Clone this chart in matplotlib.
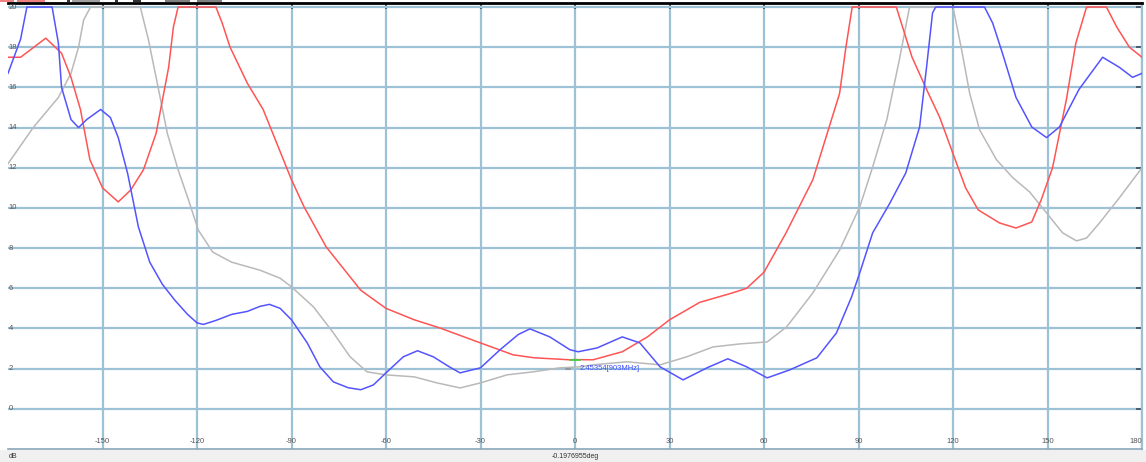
import matplotlib
matplotlib.use("Agg")
import matplotlib.pyplot as plt
from matplotlib.patches import Rectangle

# ---- data (angle in deg, level in dB) ----
red_deg = [-180, -176, -168, -163, -160, -157, -154, -150, -145, -141, -137, -133, -129, -127.5, -126,
           -114, -112, -109.5, -104, -99, -90, -86, -79, -68, -60, -51, -43, -30, -19.7, -13, -1.6, 0,
           5.7, 15, 23, 30, 39.6, 50, 54.5, 60, 67, 75.5, 84, 86, 88, 102, 104, 107, 111.6, 115.8, 120,
           124, 128, 134.8, 140, 145, 148, 151.6, 156, 159, 162.4, 168.7, 172, 176, 180]
red_db = [17.5, 17.5, 18.45, 17.7, 16.5, 14.9, 12.4, 11.0, 10.3, 10.9, 11.9, 13.7, 17.0, 19.0, 20,
          20, 19.2, 18.0, 16.2, 14.9, 11.4, 10.05, 8.06, 5.9, 5.0, 4.43, 4.03, 3.28, 2.69, 2.54, 2.44, 2.45,
          2.44, 2.84, 3.58, 4.43, 5.3, 5.77, 6.0, 6.8, 8.76, 11.4, 15.7, 18.0, 20, 20, 19.0, 17.5, 15.9, 14.5, 12.7,
          11.0, 9.9, 9.25, 9.0, 9.3, 10.4, 12.0, 15.4, 18.2, 20, 20, 19.0, 18.0, 17.5]

blue_deg = [-180, -176, -174, -166, -164, -163, -160, -157.6, -155, -150.6, -147.5, -145, -142, -138.6,
            -135, -131, -127, -123, -120, -118, -114, -109, -104, -100, -97, -93.6, -90, -85, -81, -76.7,
            -72, -68, -64, -60, -54.5, -50, -45, -40, -36.5, -30, -23.8, -18, -14.3, -8, -1.6, 1, 7, 15,
            20.6, 27, 34.3, 41.9, 48.5, 54.5, 61, 68.2, 76.8, 83, 87.8, 90.4, 94.5, 100, 105, 109.4, 111.6,
            113.5, 114.5, 130, 132.6, 135.7, 140, 145, 149.7, 153.8, 160, 167.5, 172.8, 177, 180]
blue_db = [16.7, 18.4, 20, 20, 18.2, 16.0, 14.4, 14.0, 14.4, 14.9, 14.5, 13.5, 11.7, 9.05,
           7.3, 6.2, 5.4, 4.7, 4.28, 4.2, 4.4, 4.7, 4.85, 5.1, 5.2, 5.0, 4.43, 3.28, 2.09, 1.34,
           1.05, 0.95, 1.19, 1.79, 2.59, 2.89, 2.59, 2.1, 1.79, 2.04, 2.94, 3.7, 3.98, 3.58, 2.94, 2.84, 3.03, 3.58,
           3.28, 2.09, 1.44, 2.04, 2.49, 2.09, 1.54, 1.94, 2.54, 3.78, 5.57, 6.77, 8.76, 10.25, 11.74, 14.03, 17.0,
           19.7, 20, 20, 19.2, 17.7, 15.5, 14.03, 13.5, 14.03, 15.9, 17.5, 17.0, 16.5, 16.7]

gray_deg = [-180, -172, -164, -160, -157.6, -156, -153.8, -138, -135.4, -132.6, -129.4, -126, -122.7,
            -119.6, -115, -109, -100, -93.6, -90, -83, -76.7, -71.4, -66, -60, -51, -43.8, -36.5, -30,
            -21.6, -13.3, -4.8, 1.6, 5.7, 16.5, 27, 35.5, 43.8, 52.3, 61, 67.2, 75.5, 84, 90.4, 94.5, 99,
            103, 106.2, 120, 122.7, 125.3, 128.4, 133.8, 139, 144.3, 149.7, 154.8, 159.2, 162.4, 166.5,
            172.8, 180]
gray_db = [12.2, 14.0, 15.5, 16.7, 18.0, 19.35, 20, 20, 18.36, 16.2, 13.7, 11.9, 10.4,
           8.9, 7.8, 7.3, 6.9, 6.5, 6.07, 5.07, 3.78, 2.59, 1.84, 1.69, 1.59, 1.29, 1.04, 1.29,
           1.69, 1.84, 2.04, 2.09, 2.19, 2.34, 2.19, 2.59, 3.08, 3.23, 3.33, 4.08, 5.77, 7.9, 10.05, 12.04, 14.4,
           17.4, 20, 20, 17.9, 15.7, 13.9, 12.4, 11.5, 10.8, 9.75, 8.76, 8.36, 8.5, 9.25,
           10.5, 12.0]

x_ticks = [-150, -120, -90, -60, -30, 0, 30, 60, 90, 120, 150, 180]
x_tick_labels = ["-150", "-120", "-90", "-60", "-30", "0", "30", "60", "90", "120", "150", "180"]
y_ticks = [0, 2, 4, 6, 8, 10, 12, 14, 16, 18, 20]
y_tick_labels = ["0", "2", "4", "6", "8", "10", "12", "14", "16", "18", "20"]

marker_deg = 0
marker_db = 2.4535
marker_text = "2.45354[903MHz]"
unit_text = "dB"
angle_text = "-0.1976955deg"

# ---- figure ----
W, H = 1146, 462
fig = plt.figure(figsize=(W / 100, H / 100), dpi=100)
fig.patch.set_facecolor("white")

# grey status band at the bottom
fig.add_artist(Rectangle((0, 0), 1, 12 / H, transform=fig.transFigure,
                         facecolor="#f0f0f0", edgecolor="none", zorder=0))

ax = fig.add_axes([8 / W, 13 / H, (1142 - 8) / W, 446 / H])
ax.set_xlim(-180, 180)
ax.set_ylim(-2, 20.2)

grid_c = "#9dc2d6"
ax.set_xticks(x_ticks)
ax.set_yticks(y_ticks)
ax.grid(True, color=grid_c, linewidth=1.6, zorder=1)
ax.set_axisbelow(True)
ax.set_xticklabels([])
ax.set_yticklabels([])
ax.tick_params(axis="x", bottom=False, top=True, direction="in", length=4, width=1.2, color="#3c4a58")
ax.tick_params(axis="y", left=False, right=True, direction="in", length=4, width=1.2, color="#3c4a58")

ax.spines["left"].set_visible(False)
ax.spines["right"].set_color(grid_c)
ax.spines["right"].set_linewidth(1.6)
ax.spines["top"].set_color("black")
ax.spines["top"].set_linewidth(2.0)
ax.spines["bottom"].set_color("#8aa6b8")
ax.spines["bottom"].set_linewidth(1.2)

ax.plot(gray_deg, gray_db, color="#b9b9b9", linewidth=1.1, zorder=3)
ax.plot(red_deg, red_db, color="#ff5454", linewidth=1.1, zorder=4)
ax.plot(blue_deg, blue_db, color="#5454ff", linewidth=1.1, zorder=5)

# marker
ax.plot([marker_deg - 1.5, marker_deg + 1.5], [marker_db, marker_db], color="#40d040", linewidth=1.2, zorder=6)
ax.plot([marker_deg - 3, marker_deg - 1.5], [marker_db - 0.45, marker_db - 0.45], color="#909090", linewidth=1.2, zorder=6)
ax.text(marker_deg + 1.5, marker_db - 0.45, marker_text, color="#4050ff", fontsize=5.5,
        family="Liberation Sans", ha="left", va="center", zorder=7)

# tick labels inside the plot
for xv, lab in zip(x_ticks, x_tick_labels):
    ha = "right" if xv == 180 else "center"
    ax.text(xv, -1.82, lab, color="#555555", fontsize=5.5, family="Liberation Sans",
            ha=ha, va="bottom", zorder=7)
for yv, lab in zip(y_ticks, y_tick_labels):
    ax.text(-179.7, yv, lab, color="#555555", fontsize=5.5, family="Liberation Sans",
            ha="left", va="center", zorder=7)

# status-band texts
fig.text(9 / W, 6 / H, unit_text, color="#333333", fontsize=5, family="Liberation Sans",
         ha="left", va="center")
fig.text(575 / W, 6 / H, angle_text, color="#333333", fontsize=5, family="Liberation Sans",
         ha="center", va="center")

# fragments of the cut-off header above the top border
for x0, x1, c in [(0, 14, "#f08080"), (17, 45, "#f08080"), (67, 70, "#333333"), (72, 100, "#a0a0a0"),
                  (115, 118, "#333333"), (133, 141, "#333333"), (165, 190, "#808080"), (197, 222, "#808080")]:
    fig.add_artist(Rectangle((x0 / W, (H - 2) / H), (x1 - x0) / W, 2 / H, transform=fig.transFigure,
                             facecolor=c, edgecolor="none"))

fig.savefig("out.png", dpi=100)
